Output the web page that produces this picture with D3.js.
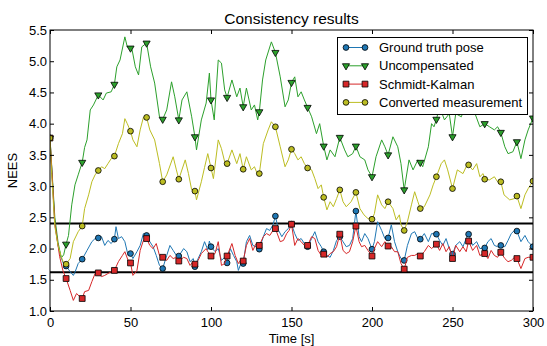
<!DOCTYPE html>
<head>
  <meta charset="utf-8">
  <script src="https://cdn.jsdelivr.net/npm/d3@7/dist/d3.min.js"></script>
  <style>
    body { margin:0; background:#fff; }
    text { font-family: "Liberation Sans", Arial, sans-serif; }
  </style>
</head>
<body>
<svg width="547" height="346"></svg>
<script>
// [time s, NEES]; markers sit at every 10 s
var groundTruth = [[0,3.77],[3,2.4],[5,2.05],[7,1.85],[8.5,1.75],[10,1.72],[12.5,1.63],[14.5,1.57],[15.5,1.62],[17.5,1.76],[20,1.83],[23,1.97],[26,2.11],[28,2.16],[30,2.17],[32,2.19],[34,2.05],[36,2.13],[38,2.08],[40,2.15],[41,2.35],[42.5,2.16],[44.5,2.19],[46.5,2.11],[48.5,1.89],[50,1.92],[51.5,1.84],[54,1.95],[56,2.05],[58,2.24],[60,2.21],[62,2.11],[64,2.03],[66,1.89],[68,1.73],[70,1.68],[72.5,1.89],[74.5,2.05],[76.5,1.97],[78.5,1.89],[80,1.88],[83,2.00],[85,1.95],[87,1.79],[89,1.84],[90,1.71],[92,1.84],[94,1.95],[96,2.11],[98,1.98],[99,2.12],[100,2.03],[102.5,1.95],[104.5,2.00],[106.5,1.81],[108.5,1.86],[110,1.77],[112,2.00],[114,1.89],[116,1.79],[117,1.65],[119,1.79],[120,1.76],[122,2.11],[124,2.21],[126,2.05],[128,2.03],[130,1.99],[132.5,2.19],[134.5,2.32],[136.5,2.29],[138.5,2.38],[140,2.52],[142,2.29],[144,2.19],[146,2.27],[148,2.32],[150,2.39],[152,2.24],[154,2.13],[156,2.16],[158,2.08],[160,2.03],[162.5,2.16],[164.5,2.27],[166.5,2.11],[168.5,2.03],[170,1.95],[172,1.89],[174,1.86],[176,1.97],[178,2.13],[180,2.19],[182,2.11],[184,2.03],[186,2.05],[188,2.16],[190,2.60],[192,2.19],[193.5,2.11],[195.5,2.24],[197.5,2.16],[200,1.99],[201.5,2.11],[203.5,2.43],[206,2.29],[208,2.16],[210,2.17],[212,2.38],[214,2.11],[216,1.95],[218,1.84],[220,1.81],[222,2.05],[224.5,2.24],[226.5,2.27],[228.5,2.16],[230,2.15],[232.5,2.24],[235,2.11],[237,2.24],[240,2.23],[242,2.13],[244,2.05],[246,2.16],[248,2.00],[250,1.91],[252,2.05],[254.5,2.11],[256.5,2.03],[258.5,2.16],[260,2.23],[262.5,2.05],[265,2.11],[267,2.00],[270,2.01],[272,2.11],[274,2.16],[276,2.05],[278,2.03],[280,2.05],[282.5,2.03],[284.5,2.13],[286.5,2.24],[288.5,2.29],[290,2.28],[292.5,2.11],[295,2.21],[297,2.11],[300,2.03]];

var uncompensated = [[0,3.77],[3,2.5],[5,2.1],[7,1.85],[8.5,1.9],[10,2.07],[11.5,2.21],[13.5,2.70],[15.5,3.02],[17.5,3.18],[20,3.38],[21.5,3.62],[23,3.74],[25,4.22],[27,4.30],[30,4.46],[33,4.38],[35,4.49],[38,4.51],[40,4.63],[41.5,4.91],[43.5,5.02],[46.5,5.39],[48,5.23],[50,5.21],[51,5.18],[53,4.91],[55,4.78],[57,5.23],[60,5.29],[62.5,4.91],[65,4.65],[68,4.11],[70,4.07],[72.5,4.22],[75.5,4.67],[77.5,4.43],[80,4.06],[82,4.38],[85,4.51],[88,4.11],[90,3.79],[91,3.58],[94,4.06],[97,4.33],[99,4.81],[100,4.38],[102,4.06],[104.5,5.02],[106.5,4.97],[108.5,4.54],[110,4.42],[113,4.70],[116,4.43],[118,4.57],[120,4.27],[122,4.57],[125,4.22],[127,4.30],[129,4.06],[130,4.19],[132,4.70],[134,5.02],[137.5,5.31],[140,5.14],[143,4.75],[146,4.27],[148,4.38],[150,4.66],[152,4.75],[154,4.43],[156,4.51],[158,4.38],[160,4.26],[162.5,4.11],[165.5,3.84],[167.5,4.00],[170,3.64],[172,3.42],[174,3.58],[177,3.47],[180,3.78],[183,3.58],[185,3.47],[188,3.52],[190,3.64],[192.5,3.47],[195.5,3.42],[197.5,3.26],[200,3.15],[202.5,3.47],[206,3.74],[208,3.63],[210,3.50],[213,3.79],[216,3.63],[218,3.36],[220,2.94],[223,3.42],[225.5,3.26],[228.5,3.42],[230,3.38],[231.5,3.31],[235,3.63],[237,4.00],[238.5,3.95],[240,4.07],[242,4.27],[245,4.06],[248,4.16],[250,3.79],[252,4.16],[255.5,4.11],[258,4.30],[260,4.35],[262,4.20],[264,4.16],[267,3.95],[270,4.00],[273,3.95],[276,3.90],[278,3.95],[280,3.86],[282.5,3.63],[284.5,3.52],[287.5,3.55],[290,3.71],[292.5,3.44],[295,3.74],[297,3.90],[300,4.09]];

var schmidtKalman = [[0,3.77],[3,2.4],[6,1.87],[8,1.65],[10,1.52],[12.5,1.33],[14.5,1.17],[16.5,1.28],[18.5,1.23],[20,1.20],[21.5,1.31],[24,1.33],[26,1.47],[28,1.60],[30,1.61],[32,1.55],[34,1.57],[36,1.60],[38,1.63],[40,1.65],[42.5,1.79],[45,1.89],[46.5,1.95],[48.5,1.81],[50,1.77],[51.5,1.57],[54,1.65],[56,1.97],[58,2.13],[60,2.16],[62,2.05],[64,2.00],[66,2.08],[68,1.89],[70,1.86],[72.5,1.81],[74.5,1.89],[76.5,1.84],[78.5,1.86],[80,1.80],[83,1.86],[85,1.84],[87,1.73],[89,1.79],[90,1.75],[92,1.81],[94,1.92],[97,2.00],[98,1.95],[100,1.88],[102.5,1.92],[104.5,2.11],[106.5,1.73],[108.5,1.76],[110,1.88],[113,2.08],[115,1.89],[117,1.76],[119,1.84],[120,1.80],[122,2.05],[124,2.16],[126,1.97],[128,2.08],[130,2.05],[132.5,2.19],[134.5,2.24],[136.5,2.21],[138.5,2.29],[140,2.32],[143,2.11],[145,2.13],[147,2.24],[148.5,2.29],[150,2.39],[152,2.05],[154,2.16],[156,2.11],[158,2.05],[160,2.05],[162.5,2.19],[164.5,2.16],[166.5,1.97],[168.5,1.89],[170,1.91],[172,1.86],[174,1.92],[176,1.95],[178,2.03],[180,2.23],[182,1.97],[184,1.92],[186,1.95],[188,2.11],[190,2.36],[192,2.11],[193.5,2.03],[195.5,2.05],[197.5,1.97],[200,1.88],[201.5,2.00],[203.5,2.11],[206,2.03],[208,2.11],[210,2.04],[212,2.03],[214,1.95],[216,1.95],[218,1.76],[220,1.67],[222,1.86],[224.5,1.89],[226.5,1.89],[228.5,1.92],[230,1.88],[232.5,1.95],[235,2.05],[237,2.00],[240,2.07],[242,1.97],[244,2.08],[246,1.95],[248,2.03],[250,1.84],[252,2.05],[254.5,1.95],[256.5,2.03],[258.5,1.95],[260,2.12],[262.5,1.97],[265,2.05],[267,1.89],[270,1.92],[272,1.84],[274,1.97],[276,1.89],[278,1.86],[280,1.94],[282.5,1.84],[284.5,1.79],[286.5,1.81],[288.5,1.86],[290,1.84],[292.5,1.68],[295,1.84],[297,1.86],[300,1.86]];

var convertedMeas = [[0,3.77],[1,3.2],[3,2.35],[5,2.05],[7,1.87],[9,1.73],[10,1.75],[12.5,1.84],[14.5,2.11],[17.5,2.27],[20,2.36],[21.5,2.64],[24,2.86],[26,3.07],[28,3.18],[30,3.25],[32,3.31],[34,3.28],[36,3.36],[38,3.44],[40,3.48],[42.5,3.68],[45,3.84],[46.5,4.08],[48,4.00],[50,3.88],[51.5,3.74],[54,3.63],[56,3.90],[58,4.10],[60,4.10],[62,3.90],[65,3.74],[68,3.36],[70,3.07],[72.5,3.18],[76.5,3.47],[78.5,3.26],[80,3.11],[84,3.42],[86,3.20],[88,2.94],[90,2.92],[91,2.78],[94,3.07],[96,3.30],[98,3.52],[100,3.29],[101.5,3.12],[104.5,3.74],[106.5,3.60],[108.5,3.39],[110,3.36],[113,3.58],[116,3.36],[118,3.52],[120,3.27],[122,3.47],[125,3.26],[127,3.31],[129,3.18],[130,3.20],[132.5,3.68],[135.5,3.90],[137.5,4.03],[140,3.95],[143,3.63],[146,3.31],[148,3.42],[150,3.59],[152,3.52],[154,3.42],[156,3.47],[158,3.36],[160,3.29],[162.5,3.26],[164.5,3.12],[166.5,2.96],[168.5,3.02],[170,2.82],[172,2.62],[174,2.75],[176,2.67],[178,2.80],[180,2.94],[182,2.75],[184,2.67],[187,2.75],[190,2.90],[192.5,2.64],[195,2.54],[197.5,2.48],[200,2.47],[201.5,2.56],[203.5,2.86],[206,2.70],[208,2.64],[210,2.75],[213,2.64],[215,2.46],[217,2.54],[218,2.38],[220,2.29],[222,2.43],[224.5,2.70],[226.5,2.91],[228.5,2.75],[230,2.64],[232.5,2.67],[236,2.86],[238,3.02],[240,3.15],[243,3.36],[245,3.42],[247,3.26],[250,2.96],[253,3.26],[256.5,3.20],[258.5,3.31],[260,3.34],[262.5,3.26],[265,3.36],[267,3.15],[269,3.20],[270,3.11],[273,3.10],[276,3.15],[278,3.07],[280,3.07],[282,2.86],[285.5,2.78],[288.5,2.80],[290,2.84],[292.5,2.64],[295,2.86],[297,2.96],[300,3.08]];

var seriesNames = ["Ground truth pose", "Uncompensated", "Schmidt-Kalman", "Converted measurement"];
var seriesData = [groundTruth, uncompensated, schmidtKalman, convertedMeas];
var seriesColors = ["#1f77b4", "#2ca02c", "#d62728", "#bcbd22"];
var seriesSymbols = [d3.symbolCircle, d3.symbolTriangle, d3.symbolSquare, d3.symbolCircle];
var symbolSizes = [26, 22, 34, 26];

var bounds = [2.40, 1.62];
var xTicks = [0, 50, 100, 150, 200, 250, 300];
var yTicks = [1.0, 1.5, 2.0, 2.5, 3.0, 3.5, 4.0, 4.5, 5.0, 5.5];

var svg = d3.select("svg"),
    pLeft = 50, pRight = 533, pTop = 30, pBottom = 311;

var x = d3.scaleLinear().domain([0, 300]).range([pLeft, pRight]);
var y = d3.scaleLinear().domain([1, 5.5]).range([pBottom, pTop]);

svg.append("clipPath").attr("id", "plot")
  .append("rect")
    .attr("x", pLeft).attr("y", pTop)
    .attr("width", pRight - pLeft).attr("height", pBottom - pTop);

var plot = svg.append("g").attr("clip-path", "url(#plot)");

// chi-square bounds
plot.selectAll(".bound")
  .data(bounds)
  .enter().append("line")
    .attr("x1", pLeft).attr("x2", pRight)
    .attr("y1", function (d) { return y(d); })
    .attr("y2", function (d) { return y(d); })
    .attr("stroke", "#000")
    .attr("stroke-width", 2);

var line = d3.line()
  .x(function (d) { return x(d[0]); })
  .y(function (d) { return y(d[1]); });

seriesData.forEach(function (data, i) {
  plot.append("path")
    .attr("d", line(data))
    .attr("fill", "none")
    .attr("stroke", seriesColors[i])
    .attr("stroke-width", 1);

  var sym = d3.symbol().type(seriesSymbols[i]).size(symbolSizes[i]);
  plot.selectAll(".m" + i)
    .data(data.filter(function (d) { return d[0] % 10 === 0; }))
    .enter().append("path")
      .attr("d", sym)
      .attr("transform", function (d) {
        return "translate(" + x(d[0]) + "," + y(d[1]) + ")" + (i === 1 ? " rotate(180)" : "");
      })
      .attr("fill", seriesColors[i])
      .attr("stroke", "#000")
      .attr("stroke-width", 0.8);
});

// axes, ticks pointing inwards on all four sides
function styleAxis(g) {
  g.select(".domain").remove();
  g.selectAll("text").attr("font-size", 13).attr("fill", "#000")
    .style("font-family", '"Liberation Sans", Arial, sans-serif');
}

svg.append("g").attr("transform", "translate(0," + pBottom + ")")
  .call(d3.axisBottom(x).tickValues(xTicks).tickFormat(d3.format("d")).tickSize(-4).tickSizeOuter(0).tickPadding(7))
  .call(styleAxis);
svg.append("g").attr("transform", "translate(0," + pTop + ")")
  .call(d3.axisTop(x).tickValues(xTicks).tickFormat("").tickSize(-4).tickSizeOuter(0))
  .call(styleAxis);
svg.append("g").attr("transform", "translate(" + pLeft + ",0)")
  .call(d3.axisLeft(y).tickValues(yTicks).tickFormat(d3.format(".1f")).tickSize(-4).tickSizeOuter(0).tickPadding(3))
  .call(styleAxis);
svg.append("g").attr("transform", "translate(" + pRight + ",0)")
  .call(d3.axisRight(y).tickValues(yTicks).tickFormat("").tickSize(-4).tickSizeOuter(0))
  .call(styleAxis);

svg.append("rect")
  .attr("x", pLeft).attr("y", pTop)
  .attr("width", pRight - pLeft).attr("height", pBottom - pTop)
  .attr("fill", "none").attr("stroke", "#000").attr("stroke-width", 1);

svg.append("text")
  .attr("x", (pLeft + pRight) / 2).attr("y", 24)
  .attr("text-anchor", "middle").attr("font-size", 15.5)
  .text("Consistency results");

svg.append("text")
  .attr("x", (pLeft + pRight) / 2).attr("y", 343)
  .attr("text-anchor", "middle").attr("font-size", 13)
  .text("Time [s]");

svg.append("text")
  .attr("transform", "translate(17," + (pTop + pBottom) / 2 + ") rotate(-90)")
  .attr("text-anchor", "middle").attr("font-size", 13)
  .text("NEES");

// legend
var legend = svg.append("g");
legend.append("rect")
  .attr("x", 337.5).attr("y", 37.5).attr("width", 190).attr("height", 77)
  .attr("fill", "#fff").attr("stroke", "#000").attr("stroke-width", 1);

var rows = legend.selectAll(".row")
  .data(seriesNames)
  .enter().append("g")
    .attr("transform", function (d, i) { return "translate(0," + (47.5 + i * 18.3) + ")"; });

rows.append("line")
  .attr("x1", 346).attr("x2", 365)
  .attr("stroke", function (d, i) { return seriesColors[i]; })
  .attr("stroke-width", 1);

[346, 365].forEach(function (px) {
  rows.append("path")
    .attr("d", function (d, i) { return d3.symbol().type(seriesSymbols[i]).size(symbolSizes[i])(); })
    .attr("transform", function (d, i) { return "translate(" + px + ",0)" + (i === 1 ? " rotate(180)" : ""); })
    .attr("fill", function (d, i) { return seriesColors[i]; })
    .attr("stroke", "#000").attr("stroke-width", 0.8);
});

rows.append("text")
  .attr("x", 379).attr("dy", "0.35em")
  .attr("font-size", 13)
  .text(function (d) { return d; });
</script>
</body>
